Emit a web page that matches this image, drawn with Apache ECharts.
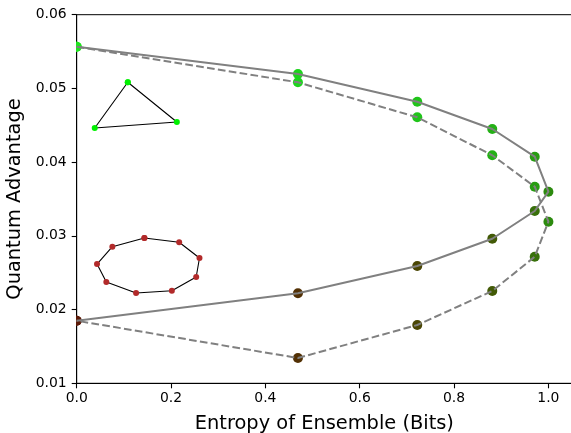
<!DOCTYPE html>
<html>
<head>
<meta charset="utf-8">
<script src="https://cdn.jsdelivr.net/npm/echarts@6/dist/echarts.min.js"></script>
<style>html,body{margin:0;padding:0;background:#fff}#c{width:571px;height:433px}</style>
</head>
<body>
<div id="c"></div>
<script>
// Data
const entropy = [0, 0.469, 0.722, 0.881, 0.971, 1.0, 0.971, 0.881, 0.722, 0.469, 0];
const solidAdv = [0.05566, 0.05196, 0.04820, 0.04450, 0.04074, 0.03599, 0.03337, 0.02961, 0.02591, 0.02221, 0.01849];
const dashedAdv = [0.05566, 0.05083, 0.04608, 0.04093, 0.03667, 0.03192, 0.02717, 0.02252, 0.01791, 0.01343, 0.01849];
const pointColors = ['#1ee61e', '#1cd41c', '#20c41a', '#24b016', '#289c12', '#2c8a0e', '#38700a', '#425a06', '#4a4604', '#523004', '#5c1a08'];
const xTicks = [0, 0.2, 0.4, 0.6, 0.8, 1.0];
const yTicks = [0.01, 0.02, 0.03, 0.04, 0.05, 0.06];
// inset graphs (node positions placed in the main axes' data space)
const triX = [0.1083, 0.0382, 0.2123];
const triY = [0.05083, 0.04463, 0.04544];
const ringX = [0.1435, 0.2172, 0.2603, 0.2533, 0.2017, 0.1259, 0.0628, 0.0431, 0.0756];
const ringY = [0.02971, 0.02913, 0.02700, 0.02442, 0.02256, 0.02225, 0.02374, 0.02618, 0.02853];

const font = 'DejaVu Sans';
const pairs = (xs, ys) => xs.map((x, i) => [x, ys[i]]);
const closed = (xs, ys) => { const p = pairs(xs, ys); p.push(p[0]); return p; };

const chart = echarts.init(document.getElementById('c'), null, {renderer: 'canvas'});

function markerSeries(ys) {
  return {
    type: 'custom',
    clip: true,
    z: 1,
    silent: true,
    data: pairs(entropy, ys),
    renderItem: function (params, api) {
      const p = api.coord([api.value(0), api.value(1)]);
      return {type: 'circle', shape: {cx: p[0], cy: p[1], r: 5}, style: {fill: pointColors[params.dataIndex]}};
    }
  };
}

chart.setOption({
  animation: false,
  backgroundColor: '#fff',
  grid: {left: 76.7, top: 14.7, right: -1, bottom: 49.7, containLabel: false, outerBoundsMode: 'none',
         show: true, borderColor: '#000', borderWidth: 1, backgroundColor: 'transparent'},
  xAxis: {
    type: 'value', min: 0, max: 1.05,
    name: 'Entropy of Ensemble (Bits)', nameLocation: 'middle', nameGap: 31,
    nameTextStyle: {fontFamily: font, fontSize: 19.4, color: '#000'},
    axisLine: {show: true, lineStyle: {color: '#000', width: 1}},
    axisTick: {show: true, length: 5, lineStyle: {color: '#000', width: 1.1}, customValues: xTicks},
    axisLabel: {fontFamily: font, fontSize: 13.9, color: '#000', margin: 8, customValues: xTicks, formatter: v => v.toFixed(1)},
    splitLine: {show: false}
  },
  yAxis: {
    type: 'value', min: 0.01, max: 0.06, interval: 0.01,
    name: 'Quantum Advantage', nameLocation: 'middle', nameGap: 45.5,
    nameTextStyle: {fontFamily: font, fontSize: 19.4, color: '#000'},
    axisLine: {show: true, lineStyle: {color: '#000', width: 1}},
    axisTick: {show: true, length: 5, lineStyle: {color: '#000', width: 1.1}},
    axisLabel: {fontFamily: font, fontSize: 13.9, color: '#000', margin: 10, formatter: v => v.toFixed(2)},
    splitLine: {show: false}
  },
  series: [
    markerSeries(solidAdv),
    markerSeries(dashedAdv),
    {type: 'line', z: 3, silent: true, data: pairs(entropy, solidAdv), showSymbol: false, symbol: 'none',
     lineStyle: {color: '#808080', width: 2}},
    {type: 'line', z: 3, silent: true, data: pairs(entropy, dashedAdv), showSymbol: false, symbol: 'none',
     lineStyle: {color: '#808080', width: 2, type: [7.7, 3.3]}},
    {type: 'line', z: 4, silent: true, data: closed(triX, triY), symbol: 'circle', symbolSize: 6, showAllSymbol: true,
     itemStyle: {color: '#00f000', borderWidth: 0}, lineStyle: {color: '#000', width: 1.1}},
    {type: 'line', z: 4, silent: true, data: closed(ringX, ringY), symbol: 'circle', symbolSize: 6, showAllSymbol: true,
     itemStyle: {color: '#b22a2a', borderWidth: 0}, lineStyle: {color: '#000', width: 1.1}}
  ]
});
</script>
</body>
</html>
